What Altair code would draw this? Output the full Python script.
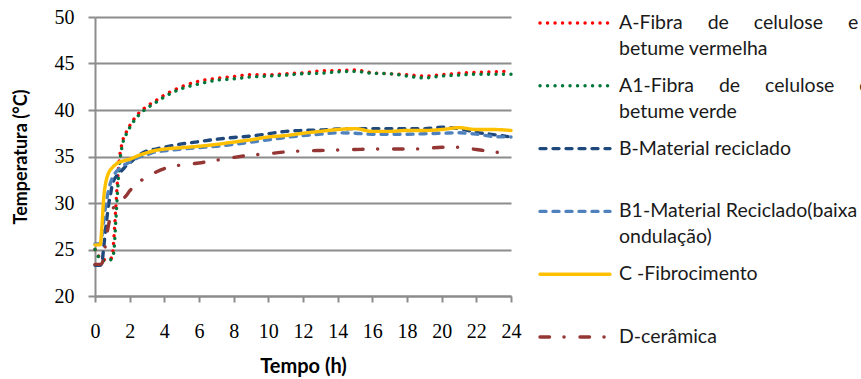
import altair as alt
import pandas as pd

# ---------------- data ----------------
TIME = [0, 0.2, 0.3, 0.4, 0.5, 0.6, 0.7, 0.8, 0.9, 1.0, 1.1, 1.2, 1.3, 1.4, 1.6, 1.8, 2, 2.5, 3, 3.5, 4,
        5, 6, 7, 8, 9, 10, 11, 12, 13, 14, 15, 16, 17, 18, 19, 20, 21, 22, 23, 24]

A_RED = [25.0, 24.3, 24.0, 23.9, 23.9, 23.9, 23.9, 24.0, 24.0, 24.4, 26.5, 29.5, 32.5, 34.6, 36.7, 37.6, 38.3,
         39.6, 40.4, 41.0, 41.6, 42.5, 43.1, 43.4, 43.6, 43.8, 43.8, 43.9, 44.0, 44.2, 44.25, 44.3, 44.0, 43.9,
         43.8, 43.65, 43.8, 43.95, 44.05, 44.1, 44.2]
A1_GREEN = [25.0, 24.2, 23.9, 23.8, 23.8, 23.8, 23.8, 23.9, 23.9, 24.0, 25.0, 28.0, 31.2, 33.8, 36.4, 37.4, 38.1,
            39.4, 40.2, 40.8, 41.4, 42.3, 42.8, 43.2, 43.35, 43.55, 43.65, 43.75, 43.9, 43.95, 44.1, 44.15, 43.95,
            43.9, 43.65, 43.45, 43.65, 43.75, 43.85, 43.85, 43.85]
B_DARK = [23.3, 23.3, 23.3, 23.6, 25.2, 27.0, 28.6, 30.0, 31.0, 32.0, 32.5, 32.8, 33.0, 33.2, 33.6, 34.0, 34.3,
          35.1, 35.6, 35.8, 36.0, 36.35, 36.6, 36.85, 37.05, 37.2, 37.45, 37.7, 37.8, 37.85, 37.95, 38.0, 38.0,
          38.0, 38.0, 38.0, 38.15, 38.0, 37.6, 37.35, 37.1]
B1_LIGHT = [25.6, 25.6, 25.6, 26.5, 28.0, 29.5, 30.6, 31.5, 32.2, 32.7, 33.0, 33.3, 33.5, 33.7, 34.0, 34.2, 34.4,
            34.9, 35.2, 35.5, 35.6, 35.8, 35.95, 36.1, 36.3, 36.55, 36.8, 37.05, 37.25, 37.4, 37.55, 37.5, 37.4,
            37.4, 37.4, 37.45, 37.5, 37.55, 37.4, 37.15, 37.1]
C_YELLOW = [25.5, 25.5, 25.5, 27.5, 30.5, 32.0, 32.8, 33.3, 33.6, 33.8, 34.0, 34.15, 34.3, 34.4, 34.5, 34.6, 34.7,
            35.1, 35.4, 35.65, 35.8, 35.95, 36.1, 36.3, 36.55, 36.8, 37.1, 37.25, 37.5, 37.7, 37.9, 38.0, 37.7,
            37.7, 37.8, 37.8, 37.9, 38.1, 37.9, 37.9, 37.8]
D_BROWN = [23.4, 23.4, 23.4, 23.5, 24.2, 25.5, 26.8, 27.8, 28.6, 29.2, 29.6, 29.8, 30.0, 30.1, 30.4, 30.8, 31.3,
           32.2, 32.8, 33.3, 33.7, 34.1, 34.3, 34.6, 34.9, 35.15, 35.3, 35.5, 35.6, 35.65, 35.7, 35.75, 35.8,
           35.8, 35.8, 35.85, 36.0, 36.0, 35.75, 35.5, 35.3]

KEYS = ["A", "A1", "B", "B1", "C", "D"]
LINE1 = ["A-Fibra de celulose e", "A1-Fibra de celulose e", "B-Material reciclado",
         "B1-Material Reciclado(baixa", "C -Fibrocimento", "D-cerâmica"]
LINE2 = ["betume vermelha", "betume verde", "", "ondulação)", "", ""]

X_TICKS = list(range(0, 25, 2))
Y_TICKS = [20, 25, 30, 35, 40, 45, 50]

# ---------------- styles ----------------
COLORS = ["#FF0000", "#00773A", "#1F497D", "#4F81BD", "#FFC000", "#943634"]
DASHES = [[0.1, 7.4], [0.1, 7.4], [6, 7], [6, 7], [1, 0], [9.5, 14.5, 0.1, 15.9]]
WIDTHS = [3.4, 3.4, 3.6, 3.6, 4, 3.6]
NBSP = "\u00a0"
JUSTIFY = {"A": 5, "A1": 5}
SERIF = "Liberation Serif"
SANS = "Lato"

series = {"A": A_RED, "A1": A1_GREEN, "B": B_DARK, "B1": B1_LIGHT, "C": C_YELLOW, "D": D_BROWN}
draw_order = ["A", "A1", "B", "B1", "D", "C"]
rows = []
for k in draw_order:
    for t, v in zip(TIME, series[k]):
        rows.append({"s": k, "t": t, "T": v})
df = pd.DataFrame(rows)

leg = pd.DataFrame({
    "s": KEYS,
    "line1": [l.replace(" ", NBSP * JUSTIFY[k]) if k in JUSTIFY else l for k, l in zip(KEYS, LINE1)],
    "line2": LINE2,
})

color = alt.Color("s:N", scale=alt.Scale(domain=KEYS, range=COLORS), legend=None)
dash = alt.StrokeDash("s:N", scale=alt.Scale(domain=KEYS, range=DASHES), legend=None)
sw = alt.StrokeWidth("s:N", scale=alt.Scale(domain=KEYS, range=WIDTHS), legend=None)

GRAY = "#8C8C8C"

lines = alt.Chart(df).mark_line(interpolate="monotone", strokeCap="round", strokeJoin="round").encode(
    x=alt.X("t:Q", scale=alt.Scale(domain=[0, 24], nice=False),
            axis=alt.Axis(values=X_TICKS, title="Tempo (h)", grid=False, labelFont=SERIF,
                          labelFontSize=20, labelColor="#000", labelPadding=19, tickSize=6,
                          tickColor=GRAY, tickWidth=2, domainColor=GRAY, domainWidth=2,
                          titleFont=SANS, titleFontSize=20, titleFontWeight="bold", titleColor="#000",
                          titlePadding=15, labelFlush=False)),
    y=alt.Y("T:Q", scale=alt.Scale(domain=[20, 50], nice=False, zero=False),
            axis=alt.Axis(values=Y_TICKS, title="Temperatura (°C)", grid=True, gridColor=GRAY, gridWidth=2,
                          labelFont=SERIF, labelFontSize=20, labelColor="#000",
                          labelPadding=14, tickSize=7, tickColor=GRAY, tickWidth=2,
                          domainColor=GRAY, domainWidth=2, titleFont=SANS, titleFontSize=18,
                          titleFontWeight="bold", titleColor="#000", titlePadding=24)),
    color=color,
    strokeDash=dash,
    strokeWidth=sw,
    detail="s:N",
)

leg_y = alt.Y("s:N", scale=alt.Scale(type="point", domain=KEYS, range=[6, 320], padding=0), axis=None)

leg_rules = alt.Chart(leg).mark_rule(strokeCap="round").encode(
    x=alt.value(445), x2=alt.value(515), y=leg_y,
    color=color, strokeDash=dash, strokeWidth=sw,
)

leg_text1 = alt.Chart(leg).mark_text(align="left", baseline="middle", font=SANS, fontSize=19.5,
                                     color="#1a1a1a").encode(
    x=alt.value(524), y=leg_y, text="line1:N")
leg_text2 = alt.Chart(leg).mark_text(align="left", baseline="middle", font=SANS, fontSize=19.5,
                                     color="#1a1a1a", dy=26).encode(
    x=alt.value(524), y=leg_y, text="line2:N")

chart = alt.layer(lines, leg_rules, leg_text1, leg_text2).resolve_scale(
    y="independent"
).properties(
    width=416, height=279,
    autosize=alt.AutoSizeParams(type="none"),
    padding={"left": 95, "top": 17, "right": 350, "bottom": 83},
    background="white",
).configure_view(stroke=None)

chart.save("out.html", embed_options={"renderer": "svg", "actions": False})
